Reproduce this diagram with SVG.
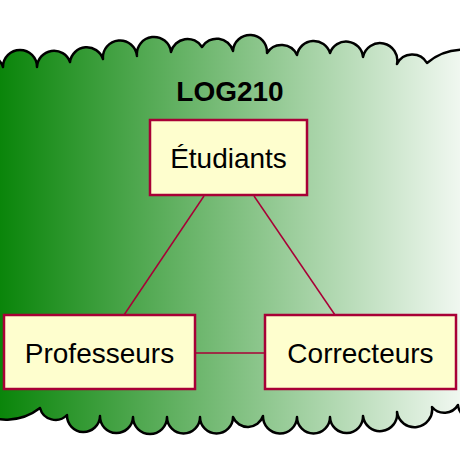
<svg xmlns="http://www.w3.org/2000/svg" width="460" height="460" viewBox="0 0 460 460">
<style>
.box{fill:#FEFECE;stroke:#A80036;stroke-width:2.5}
.lbl{font-family:"Liberation Sans",Arial,sans-serif;font-size:28px;fill:#000;text-anchor:middle}
.title{font-family:"Liberation Sans",Arial,sans-serif;font-size:28px;font-weight:bold;fill:#000;text-anchor:middle}
.edge{stroke:#A80036;stroke-width:1.5;fill:none}
</style>
<defs>
<linearGradient id="g" gradientUnits="userSpaceOnUse" x1="-20" y1="0" x2="490" y2="0">
<stop offset="0" stop-color="#008000"/>
<stop offset="1" stop-color="#FFFFFF"/>
</linearGradient>
</defs>
<g id="cloud">
<path fill="url(#g)" stroke="#000" stroke-width="2.5" stroke-linejoin="round" d="M -30,70 A 17 17 0 0 1 3,67 A 17 17 0 0 1 37,67 A 17 17 0 0 1 70,62 A 17 17 0 0 1 103,59 A 17 17 0 0 1 137,56 A 17 17 0 0 1 171,52 A 17 17 0 0 1 202,47 A 17 17 0 0 1 233,51 A 17 17 0 0 1 267,53 A 17 17 0 0 1 297,55 A 17 17 0 0 1 330,53 A 17 17 0 0 1 363,57 A 17 17 0 0 1 397,64 A 17 17 0 0 1 427,63 A 55 55 0 0 1 495,60 L 500,60 L 500,402 L 490,402 A 16 16 0 0 1 458,405 A 16 16 0 0 1 432,407 A 16 16 0 0 1 397,412 A 16 16 0 0 1 363,416 A 16 16 0 0 1 330,417 A 16 16 0 0 1 297,417 A 16 16 0 0 1 263,416 A 16 16 0 0 1 233,417 A 16 16 0 0 1 200,417 A 16 16 0 0 1 167,417 A 16 16 0 0 1 133,417 A 16 16 0 0 1 100,416 A 16 16 0 0 1 67,415 A 16 16 0 0 1 40,408 A 55 55 0 0 1 -25,410 L -40,410 L -40,70 Z"/>
<text class="title" x="230" y="101">LOG210</text>
</g>
<g id="connectors">
<line class="edge" x1="204" y1="196" x2="124" y2="315"/>
<line class="edge" x1="254" y1="196" x2="335" y2="315"/>
<line class="edge" x1="195" y1="353" x2="265" y2="353"/>
</g>
<g id="etudiants">
<rect class="box" x="150" y="120" width="157" height="75"/>
<text class="lbl" x="228.5" y="168">Étudiants</text>
</g>
<g id="professeurs">
<rect class="box" x="4" y="315" width="191" height="74"/>
<text class="lbl" x="99.5" y="363">Professeurs</text>
</g>
<g id="correcteurs">
<rect class="box" x="265" y="315" width="191" height="74"/>
<text class="lbl" x="360.5" y="363">Correcteurs</text>
</g>
</svg>
